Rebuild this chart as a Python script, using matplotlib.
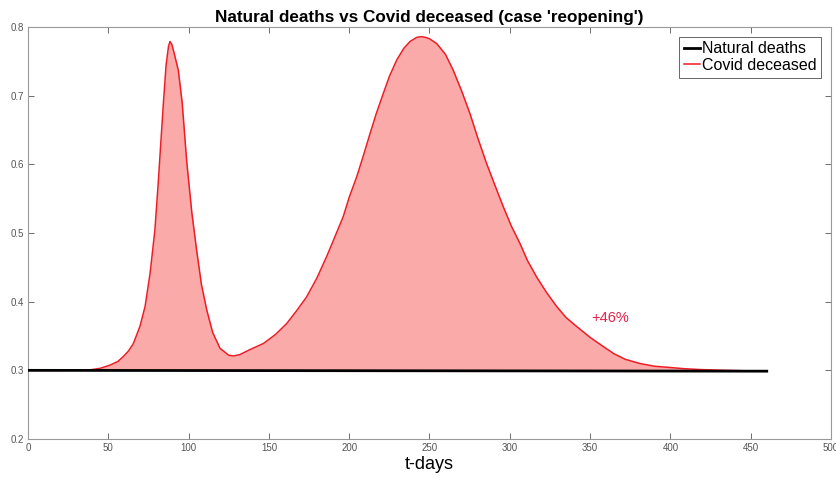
import numpy as np
import matplotlib
matplotlib.use('Agg')
import matplotlib.pyplot as plt

# Covid deceased curve (t in days)
t_covid = [0, 20, 38, 45, 51, 56, 59.3, 62.5, 65.6, 69.7, 72.9, 76, 79, 81, 84.3, 86, 87.5, 88.4,
           89.5, 91, 93.6, 96, 98.8, 102, 105, 108, 111.3, 115, 119.6, 125, 128, 132,
           138, 146.5, 154, 161, 167, 173.5, 180, 186, 191, 196.3, 200, 204.7, 209, 213, 217,
           221.2, 225, 229.6, 234, 237.9, 240, 242, 245, 247.5, 250, 254.5, 260, 264.8, 270,
           275.2, 280, 285.6, 291, 296, 301, 306.3, 311, 316.7, 323, 329.2, 335, 341.6, 350,
           358, 365, 372, 381, 390, 398, 408, 418, 430, 445, 460]
covid = [0.300, 0.300, 0.3005, 0.303, 0.3075, 0.313, 0.320, 0.328, 0.339, 0.364, 0.393, 0.441,
         0.504, 0.570, 0.689, 0.745, 0.772, 0.779,
         0.775, 0.762, 0.737, 0.690, 0.605, 0.530, 0.475, 0.425, 0.388, 0.355, 0.332, 0.322,
         0.321, 0.323,
         0.330, 0.339, 0.352, 0.368, 0.386, 0.407, 0.435, 0.466, 0.494, 0.524, 0.552, 0.582,
         0.614, 0.645, 0.675, 0.703, 0.728, 0.752, 0.769, 0.779, 0.782, 0.785, 0.786, 0.785,
         0.783, 0.776, 0.760, 0.737, 0.707, 0.674, 0.639, 0.601, 0.568, 0.538, 0.510, 0.485,
         0.460, 0.436, 0.413, 0.393, 0.377, 0.364, 0.348, 0.335, 0.324, 0.316, 0.310, 0.306,
         0.3045, 0.3025, 0.3012, 0.3003, 0.2994, 0.2988]

# Natural deaths: practically flat line
t_natural = [0, 460]
natural = [0.300, 0.2988]

plt.rcParams['font.family'] = ['Liberation Sans', 'DejaVu Sans']

fig = plt.figure(figsize=(8.36, 4.79), dpi=100)
ax = fig.add_axes([0.0335, 0.0835, 0.9605, 0.860])

base = np.interp(t_covid, t_natural, natural)
ax.fill_between(t_covid, base, covid, color='#fbaaaa', linewidth=0)
ax.plot(t_natural, natural, color='black', linewidth=2, label='Natural deaths', zorder=3)
ax.plot(t_covid, covid, color='#ee1c24', linewidth=1.1, label='Covid deceased', zorder=2)

ax.text(350.5, 0.376, '+46%', color='#e8204a', fontsize=10.5, va='center', ha='left')

ax.set_xlim(0, 500)
ax.set_ylim(0.2, 0.8)
ax.set_xticks(np.arange(0, 501, 50))
ax.set_yticks(np.arange(0.2, 0.81, 0.1))
ax.set_yticklabels(['0.2', '0.3', '0.4', '0.5', '0.6', '0.7', '0.8'])
ax.tick_params(direction='in', top=True, right=True, labelsize=7, colors='#555555',
               length=4, width=0.6, pad=3)
for s in ax.spines.values():
    s.set_color('#999999')
    s.set_linewidth(0.8)

ax.set_title("Natural deaths vs Covid deceased (case 'reopening')", fontsize=12.3,
             fontweight='bold', pad=4)
ax.set_xlabel('t-days', fontsize=13, labelpad=2)

leg = ax.legend(loc='upper right', fontsize=11.5, handlelength=1.0, handletextpad=0.15,
                borderpad=0.3, labelspacing=0.1, fancybox=False, framealpha=1,
                borderaxespad=0.6)
leg.get_frame().set_edgecolor('#666666')
leg.get_frame().set_linewidth(0.7)

fig.savefig('out.png', dpi=100)
